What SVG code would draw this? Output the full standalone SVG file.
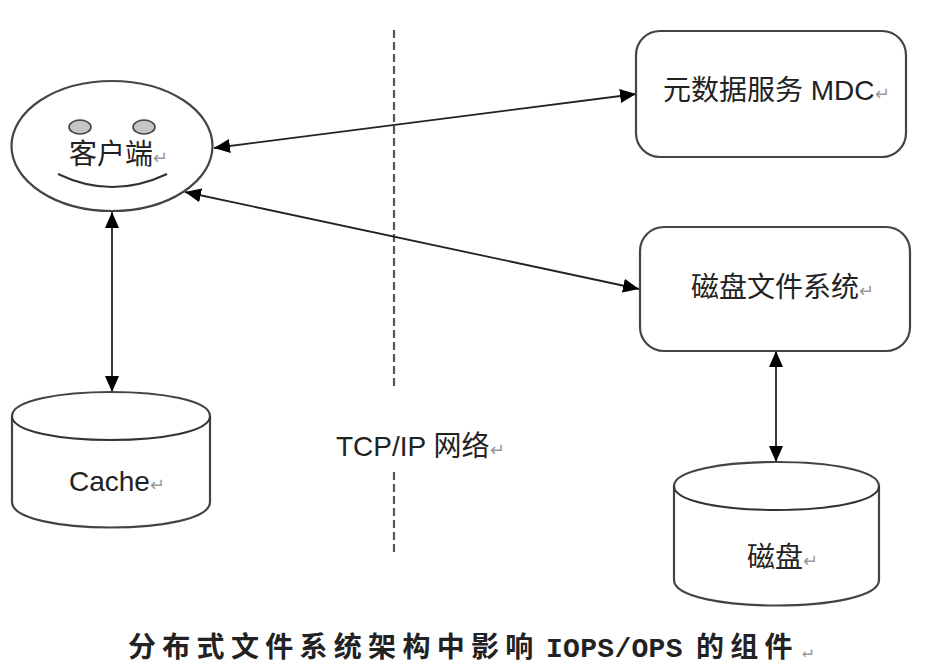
<svg xmlns="http://www.w3.org/2000/svg" width="926" height="670" viewBox="0 0 926 670">
<style>
.s{fill:#fff;stroke:#444;stroke-width:2.200}
.c{fill:none;stroke:#333;stroke-width:2}
.a{fill:none;stroke:#222;stroke-width:1.800;marker-start:url(#h);marker-end:url(#h)}
.t{font-family:"Liberation Sans","Noto Sans CJK SC",sans-serif;font-size:28px;fill:#222}
.m{font-size:18px;fill:#999}
.eye{fill:#c4c4c4;stroke:#444;stroke-width:1.600}
.d{fill:none;stroke:#555;stroke-width:2.200;stroke-dasharray:8 4}
.title{font-family:"Liberation Mono","Noto Sans CJK SC",monospace;font-size:28px;font-weight:bold;fill:#222}
.cj{letter-spacing:6.300px}
.la{letter-spacing:.3px}
.tm{font-size:18px;fill:#999;font-weight:normal}
</style>
<defs>
<marker id="h" viewBox="0 0 16 14" refX="16" refY="7" markerWidth="16" markerHeight="14" markerUnits="userSpaceOnUse" orient="auto-start-reverse"><path d="M0 0L16 7L0 14Z" fill="#000"/></marker>
</defs>
<rect width="926" height="670" fill="#fff"/>
<g id="connectors">
<path class="d" d="M394 30V390"/>
<path class="d" d="M394 472V556"/>
<path class="a" d="M214 148L636 94"/>
<path class="a" d="M185 192L639 289"/>
<path class="a" d="M112 212V392"/>
<path class="a" d="M776 351V462"/>
</g>
<g id="client">
<ellipse class="s" cx="112" cy="146" rx="100.500" ry="65"/>
<ellipse class="eye" cx="80" cy="127" rx="11" ry="7"/>
<ellipse class="eye" cx="144" cy="127" rx="11" ry="7"/>
<path class="c" d="M58 174Q112 200 167 174"/>
<text class="t" x="69" y="164">客户端<tspan class="m">↵</tspan></text>
</g>
<g id="mdc">
<rect class="s" x="636" y="31" width="270" height="126" rx="24"/>
<text class="t" x="663" y="100">元数据服务 MDC<tspan class="m">↵</tspan></text>
</g>
<g id="fs">
<rect class="s" x="640" y="227" width="270" height="124" rx="24"/>
<text class="t" x="691" y="297">磁盘文件系统<tspan class="m">↵</tspan></text>
</g>
<g id="cache">
<path class="s" d="M12 416C12 384 210 384 210 416V502C210 536 12 536 12 502Z"/>
<path class="c" d="M12 416C12 448 210 448 210 416"/>
<text class="t" x="69" y="491">Cache<tspan class="m">↵</tspan></text>
</g>
<g id="disk">
<path class="s" d="M674 486C674 454 879 454 879 486V580C879 614 674 614 674 580Z"/>
<path class="c" d="M674 486C674 518 879 518 879 486"/>
<text class="t" x="747" y="567">磁盘<tspan class="m">↵</tspan></text>
</g>
<g id="network">
<text class="t" x="336" y="456">TCP/IP 网络<tspan class="m">↵</tspan></text>
</g>
<g id="caption">
<text class="title" y="657"><tspan class="cj" x="128">分布式文件系统架构中影响</tspan><tspan class="la" x="546">IOPS/OPS</tspan><tspan class="cj" x="696">的组件</tspan><tspan class="tm" x="802">↵</tspan></text>
</g>
</svg>
